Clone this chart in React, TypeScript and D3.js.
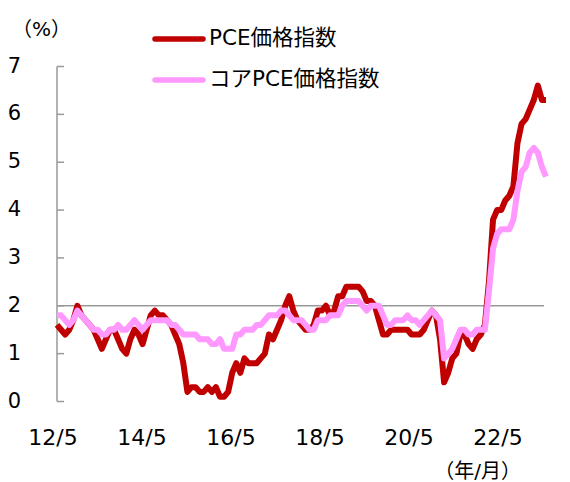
import * as d3 from "d3"

// monthly, 2012/5 .. 2022/5 (YoY %)
const pce = [
    1.6, 1.5, 1.4, 1.5, 1.7, 2.0, 1.8, 1.7,
    1.6, 1.5, 1.3, 1.1, 1.3, 1.5, 1.5, 1.3, 1.1, 1.0, 1.3, 1.5,
    1.4, 1.2, 1.5, 1.8, 1.9, 1.8, 1.8, 1.7, 1.6, 1.4, 1.2, 0.8,
    0.2, 0.3, 0.3, 0.2, 0.2, 0.3, 0.2, 0.3, 0.1, 0.1, 0.2, 0.6,
    0.8, 0.6, 0.9, 0.8, 0.8, 0.8, 0.9, 1.0, 1.4, 1.3, 1.5, 1.7,
    2.0, 2.2, 1.9, 1.7, 1.6, 1.5, 1.5, 1.6, 1.9, 1.9, 2.0, 1.8,
    1.9, 2.2, 2.2, 2.4, 2.4, 2.4, 2.4, 2.3, 2.1, 2.1, 2.0, 1.7,
    1.4, 1.4, 1.5, 1.5, 1.5, 1.5, 1.5, 1.4, 1.4, 1.4, 1.5, 1.7,
    1.9, 1.8, 1.3, 0.4, 0.6, 0.9, 1.0, 1.4, 1.4, 1.2, 1.1, 1.3,
    1.4, 1.6, 2.5, 3.8, 4.0, 4.0, 4.2, 4.3, 4.5, 5.4, 5.8, 5.9,
    6.1, 6.3, 6.6, 6.3, 6.3,
]

const corePce = [
    1.8, 1.8, 1.7, 1.6, 1.7, 1.9, 1.8, 1.7,
    1.6, 1.5, 1.5, 1.4, 1.4, 1.5, 1.5, 1.6, 1.5, 1.5, 1.6, 1.7,
    1.6, 1.5, 1.6, 1.7, 1.7, 1.7, 1.7, 1.7, 1.6, 1.6, 1.5, 1.4,
    1.4, 1.4, 1.4, 1.3, 1.3, 1.3, 1.2, 1.2, 1.3, 1.1, 1.1, 1.1,
    1.4, 1.4, 1.5, 1.5, 1.5, 1.6, 1.6, 1.7, 1.8, 1.8, 1.8, 1.9,
    1.9, 1.8, 1.7, 1.7, 1.7, 1.6, 1.5, 1.5, 1.7, 1.7, 1.7, 1.8,
    1.8, 1.8, 2.0, 2.1, 2.1, 2.1, 2.1, 2.0, 1.9, 2.0, 2.0, 2.0,
    1.8, 1.6, 1.6, 1.7, 1.7, 1.7, 1.8, 1.7, 1.7, 1.6, 1.7, 1.8,
    1.9, 1.8, 1.7, 0.9, 1.0, 1.1, 1.3, 1.5, 1.5, 1.4, 1.4, 1.5,
    1.5, 1.5, 2.3, 3.2, 3.5, 3.6, 3.6, 3.6, 3.8, 4.4, 4.8, 4.9,
    5.2, 5.3, 5.2, 4.9, 4.7,
]

const xLabels = ["12/5", "14/5", "16/5", "18/5", "20/5", "22/5"]
const yTicks = [0, 1, 2, 3, 4, 5, 6, 7]

const seriesNames = ["PCE価格指数", "コアPCE価格指数"]
const colors = ["#C00000", "#FF99FF"]

const font = "'DejaVu Sans', 'Noto Sans CJK JP', sans-serif"

export default function App() {
    const width = 570
    const height = 482
    const left = 57
    const right = 546

    const x = d3.scaleLinear().domain([0, pce.length - 1]).range([left, right])
    const y = d3.scaleLinear().domain([0, 7]).range([401.5, 66.5])
    const xl = d3.scalePoint<string>().domain(xLabels).range([53, 498])

    const line = d3.line<number>()
        .x((_, i) => x(i))
        .y((d) => y(d))

    const series = [pce, corePce]

    return (
        <svg
            width={width}
            height={height}
            style={{ position: "absolute", left: 0, top: 0, background: "#fff" }}
            fontFamily={font}
        >
            <text x={12} y={36} fontSize={20} fill="#000">（%）</text>

            {/* gridline at 2 */}
            <line x1={left} x2={544} y1={y(2)} y2={y(2)} stroke="#999" strokeWidth={1.5} />

            {/* y axis */}
            <line x1={left} x2={left} y1={y(0)} y2={y(7)} stroke="#999" strokeWidth={1.5} />
            {yTicks.map((t) => (
                <g key={t}>
                    <line x1={left} x2={left + 7} y1={y(t)} y2={y(t)} stroke="#999" strokeWidth={1.5} />
                    <text x={21} y={y(t) + 6} textAnchor="end" fontSize={21} fill="#000">{t}</text>
                </g>
            ))}

            {xLabels.map((l) => (
                <text key={l} x={xl(l)} y={445} textAnchor="middle" fontSize={22} fill="#000">{l}</text>
            ))}
            <text x={521} y={478} textAnchor="end" fontSize={20} fill="#000">（年/月）</text>

            {series.map((s, i) => (
                <path
                    key={i}
                    d={line(s) ?? ""}
                    fill="none"
                    stroke={colors[i]}
                    strokeWidth={6}
                    strokeLinejoin="round"
                />
            ))}

            {/* legend */}
            {seriesNames.map((n, i) => (
                <g key={n} transform={`translate(0, ${39 + i * 41})`}>
                    <line x1={155} x2={203} y1={0} y2={0} stroke={colors[i]} strokeWidth={5.5} strokeLinecap="round" />
                    <text x={209} y={6} fontSize={21.5} fill="#000">{n}</text>
                </g>
            ))}
        </svg>
    )
}
